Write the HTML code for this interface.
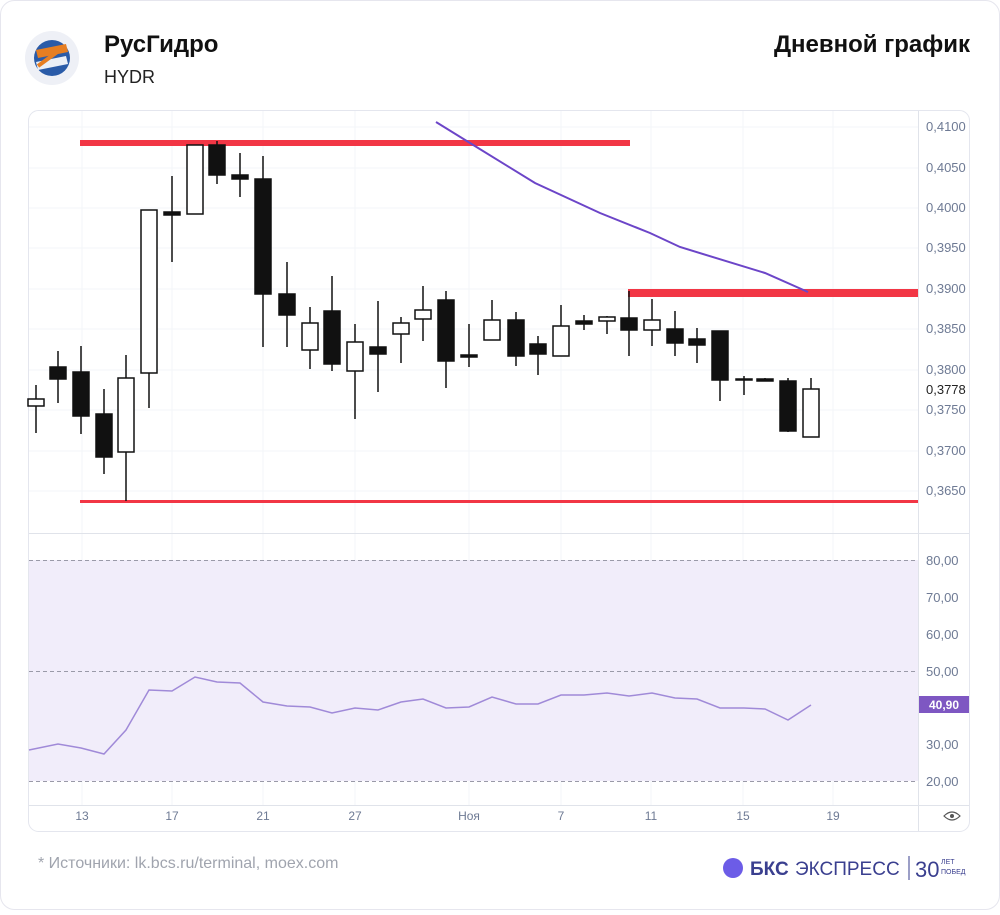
<!DOCTYPE html>
<html><head><meta charset="utf-8"><style>
body{margin:0;width:1000px;height:910px;background:#fff;font-family:"Liberation Sans","DejaVu Sans",sans-serif;overflow:hidden}
</style></head><body>
<svg width="1000" height="910" viewBox="0 0 1000 910" xmlns="http://www.w3.org/2000/svg" font-family="Liberation Sans, DejaVu Sans, sans-serif">
<rect x="0.5" y="0.5" width="999" height="909" rx="14" fill="#fff" stroke="#e6e6ee"/>
<!-- logo -->
<circle cx="52" cy="58" r="27" fill="#eef0f6"/>
<circle cx="52" cy="58" r="18" fill="#2a5ba8"/>
<path d="M36 50 L66 44 L68 52 L38 58Z" fill="#e67e22"/>
<path d="M36 62 L66 56 L68 64 L38 70Z" fill="#fff" opacity="0.9"/>
<path d="M38 66 L60 50" stroke="#e67e22" stroke-width="4"/>
<text x="104" y="52" font-size="24" font-weight="bold" fill="#111">РусГидро</text>
<text x="104" y="83" font-size="18" fill="#222">HYDR</text>
<text x="970" y="52" font-size="24" font-weight="bold" fill="#111" text-anchor="end">Дневной график</text>
<!-- panel -->
<rect x="28.5" y="110.5" width="941" height="721" rx="10" fill="#fff" stroke="#e4e6ee"/>
<g stroke="#f3f5f9" stroke-width="1">
<line x1="29" x2="918" y1="127" y2="127"/><line x1="29" x2="918" y1="168" y2="168"/><line x1="29" x2="918" y1="208" y2="208"/><line x1="29" x2="918" y1="248" y2="248"/><line x1="29" x2="918" y1="289" y2="289"/><line x1="29" x2="918" y1="329" y2="329"/><line x1="29" x2="918" y1="370" y2="370"/><line x1="29" x2="918" y1="410" y2="410"/><line x1="29" x2="918" y1="451" y2="451"/><line x1="29" x2="918" y1="491" y2="491"/>
<line x1="82" x2="82" y1="111" y2="805"/><line x1="172" x2="172" y1="111" y2="805"/><line x1="263" x2="263" y1="111" y2="805"/><line x1="355" x2="355" y1="111" y2="805"/><line x1="469" x2="469" y1="111" y2="805"/><line x1="561" x2="561" y1="111" y2="805"/><line x1="651" x2="651" y1="111" y2="805"/><line x1="743" x2="743" y1="111" y2="805"/><line x1="833" x2="833" y1="111" y2="805"/>
</g>
<line x1="918.5" x2="918.5" y1="111" y2="831" stroke="#e0e3ea"/>
<line x1="29" x2="969" y1="533.5" y2="533.5" stroke="#e0e3ea"/>
<line x1="29" x2="969" y1="805.5" y2="805.5" stroke="#e0e3ea"/>
<!-- price labels -->
<g font-size="13" fill="#6e7a94" text-anchor="start">
<text x="926" y="131">0,4100</text><text x="926" y="172">0,4050</text><text x="926" y="212">0,4000</text><text x="926" y="252">0,3950</text><text x="926" y="293">0,3900</text><text x="926" y="333">0,3850</text><text x="926" y="374">0,3800</text><text x="926" y="414">0,3750</text><text x="926" y="455">0,3700</text><text x="926" y="495">0,3650</text>
</g>
<text x="926" y="394" font-size="13" fill="#222">0,3778</text>
<!-- red lines -->
<line x1="80" x2="630" y1="143" y2="143" stroke="#f23645" stroke-width="6"/>
<line x1="628" x2="918" y1="293" y2="293" stroke="#f23645" stroke-width="8"/>
<line x1="80" x2="918" y1="501.5" y2="501.5" stroke="#f23645" stroke-width="3"/>
<!-- MA -->
<polyline points="436,122 470,143 535,183 600,213 650,233 680,247 765,273 808,292" fill="none" stroke="#6c45c8" stroke-width="2"/>
<!-- candles -->
<g stroke="#111" stroke-width="1.5" id="c"></g>
<!-- RSI -->
<rect x="29" y="560" width="889" height="221" fill="#f1edfa"/>
<g stroke="#9a9aa8" stroke-dasharray="4,3"><line x1="29" x2="918" y1="560.5" y2="560.5"/><line x1="29" x2="918" y1="671.5" y2="671.5"/><line x1="29" x2="918" y1="781.5" y2="781.5"/></g>
<g font-size="13" fill="#6e7a94"><text x="926" y="565">80,00</text><text x="926" y="602">70,00</text><text x="926" y="639">60,00</text><text x="926" y="676">50,00</text><text x="926" y="749">30,00</text><text x="926" y="786">20,00</text></g>
<polyline points="29,750 58,744 81,748 104,754 126,730 149,690 172,691 195,677 217,682 240,683 263,702 287,706 310,707 332,713 355,708 378,710 401,702 423,699 446,708 469,707 492,697 516,704 538,704 561,695 584,695 607,693 629,696 652,693 675,698 697,699 720,708 744,708 765,709 788,720 811,705" fill="none" stroke="#a08ad8" stroke-width="1.5"/>
<rect x="919" y="696" width="50" height="17" fill="#7e57c2"/>
<text x="944" y="709" font-size="12" font-weight="bold" fill="#fff" text-anchor="middle">40,90</text>
<!-- dates -->
<g font-size="12" fill="#6e7a94" text-anchor="middle"><text x="82" y="820">13</text><text x="172" y="820">17</text><text x="263" y="820">21</text><text x="355" y="820">27</text><text x="469" y="820">Ноя</text><text x="561" y="820">7</text><text x="651" y="820">11</text><text x="743" y="820">15</text><text x="833" y="820">19</text></g>
<path d="M944 816 Q952 808 960 816 Q952 824 944 816Z" fill="none" stroke="#555" stroke-width="1.2"/><circle cx="952" cy="816" r="2" fill="#555"/>
<!-- footer -->
<text x="38" y="868" font-size="16" fill="#a0a4ae">* Источники: lk.bcs.ru/terminal, moex.com</text>
<circle cx="733" cy="868" r="10" fill="#6c5ce7"/>
<text x="750" y="875" font-size="19" font-weight="bold" fill="#3a3f8f">БКС</text>
<text x="795" y="875" font-size="19" fill="#3a3f8f">ЭКСПРЕСС</text>
<line x1="909" x2="909" y1="856" y2="880" stroke="#3a3f8f"/>
<text x="915" y="877" font-size="22" fill="#3a3f8f">30</text>
<text x="941" y="864" font-size="7" fill="#3a3f8f">ЛЕТ</text><text x="941" y="874" font-size="7" fill="#3a3f8f">ПОБЕД</text>
</svg>
<script>
var d=[[36,385,433,399,406,0],[58,351,403,367,379,1],[81,346,434,372,416,1],[104,389,474,414,457,1],[126,355,501,378,452,0],[149,210,408,210,373,0],[172,176,262,212,215,1],[195,145,214,145,214,0],[217,141,184,145,175,1],[240,153,197,175,179,1],[263,156,347,179,294,1],[287,262,347,294,315,1],[310,307,369,323,350,0],[332,276,371,311,364,1],[355,324,419,342,371,0],[378,301,392,347,354,1],[401,317,363,323,334,0],[423,286,341,310,319,0],[446,291,388,300,361,1],[469,324,367,355,357,1],[492,300,340,320,340,0],[516,312,366,320,356,1],[538,336,375,344,354,1],[561,305,356,326,356,0],[584,315,330,321,324,1],[607,316,334,317,321,0],[629,291,356,318,330,1],[652,299,346,320,330,0],[675,311,356,329,343,1],[697,328,363,339,345,1],[720,331,401,331,380,1],[744,376,395,379,380,1],[765,378,381,379,381,1],[788,378,432,381,431,1],[811,378,437,389,437,0]];
var g=document.getElementById('c'),s='';
d.forEach(function(c){s+='<line x1="'+c[0]+'" x2="'+c[0]+'" y1="'+c[1]+'" y2="'+c[2]+'"/>';s+='<rect x="'+(c[0]-8)+'" y="'+c[3]+'" width="16" height="'+Math.max(1,c[4]-c[3])+'" fill="'+(c[5]?'#111':'#fff')+'"/>';});
g.innerHTML=s;
</script>
</body></html>
